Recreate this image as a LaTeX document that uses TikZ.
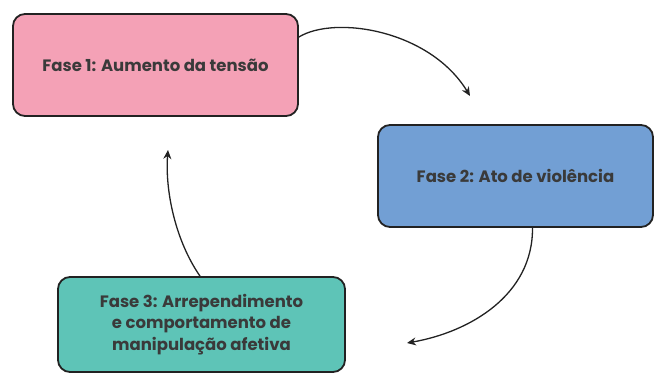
\documentclass[tikz,border=0pt]{standalone}
\usepackage{fontspec}
\setmainfont{Poppins}
\usetikzlibrary{arrows.meta}
\definecolor{pinkfill}{HTML}{F4A1B6}
\definecolor{bluefill}{HTML}{729FD4}
\definecolor{tealfill}{HTML}{5EC4B7}
\definecolor{edge}{HTML}{222222}
\definecolor{txt}{HTML}{3A3A3A}
\tikzset{
  phase/.style={draw=edge, line width=1.8pt, rounded corners=12pt, align=center,
    text=txt, font=\fontsize{16.5}{21.5}\selectfont\bfseries, inner sep=0pt},
  cyc/.style={draw=edge, line width=1.3pt, -{Stealth[length=9pt,width=8pt]}}
}
\begin{document}
\begin{tikzpicture}[x=1pt,y=-1pt]
\useasboundingbox (0,0) rectangle (654,374);
\node[phase, fill=pinkfill, minimum width=285pt, minimum height=102pt] (b1) at (155.5,65) {Fase 1: Aumento da tensão};
\node[phase, fill=bluefill, minimum width=275pt, minimum height=102pt] (b2) at (515.5,176) {Fase 2: Ato de violência};
\node[phase, fill=tealfill, minimum width=287pt, minimum height=95pt] (b3) at (201.5,324.5) {Fase 3: Arrependimento\\e comportamento de\\manipulação afetiva};
\coordinate (e1) at (470,96);
\coordinate (e2) at (407,343);
\coordinate (e3) at (168,150);
\draw[cyc] ([yshift=28pt]b1.east) .. controls (335,15) and (430,30) .. (e1);
\draw[cyc] ([xshift=17pt]b2.south) .. controls (533,295) and (470,332) .. (e2);
\draw[cyc] ([xshift=-1.5pt]b3.north) .. controls (175,240) and (165,190) .. (e3);
\end{tikzpicture}
\end{document}
